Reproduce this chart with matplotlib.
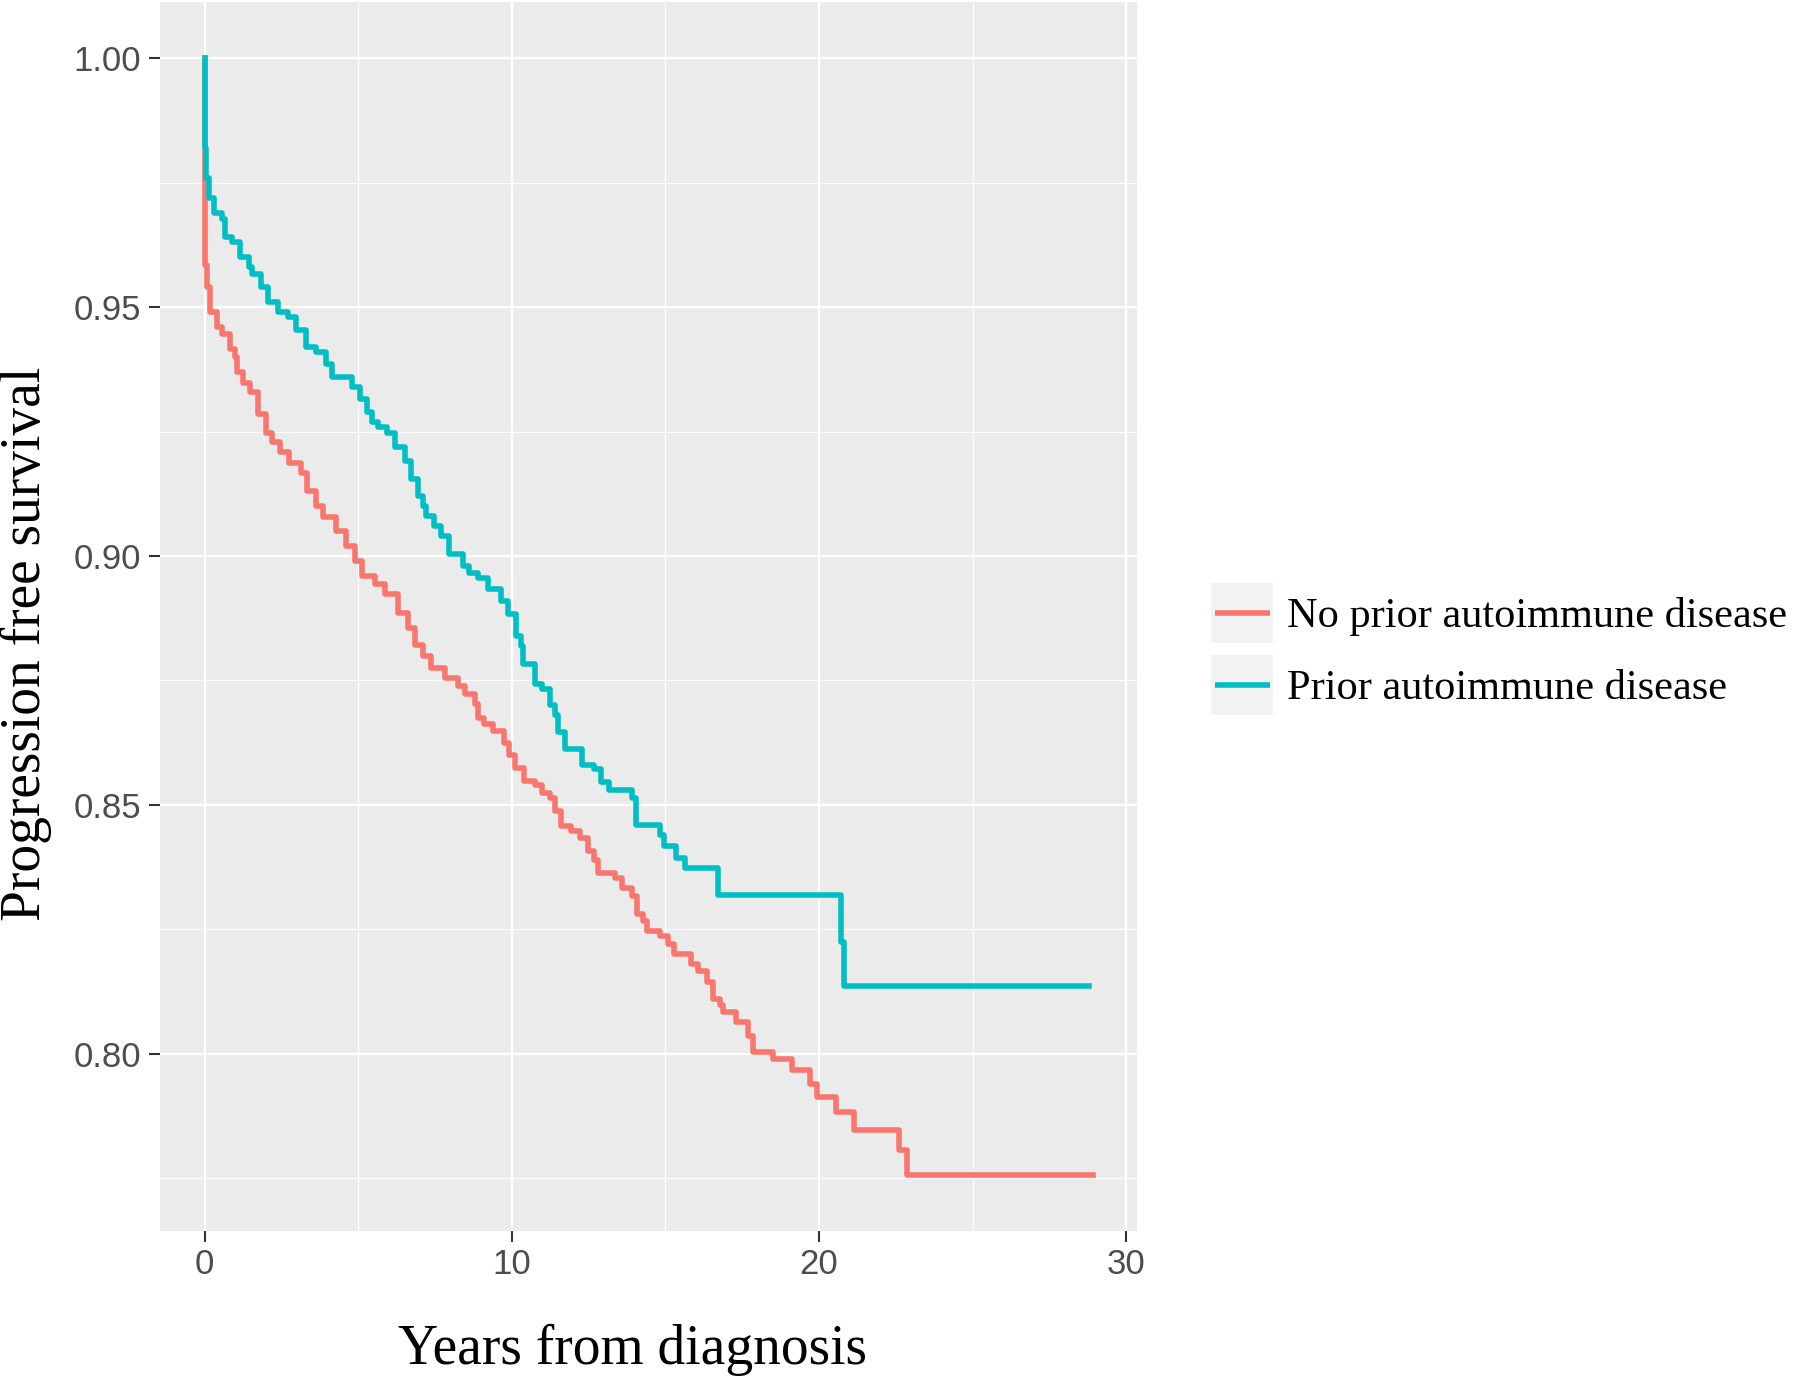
import numpy as np
import matplotlib
matplotlib.use('Agg')
import matplotlib.pyplot as plt
from matplotlib.patches import Rectangle
from matplotlib.lines import Line2D

# --- Kaplan-Meier estimates (years, survival) ---
no_prior_years = [0, 0.01, 0.02, 0.03, 0.086, 0.19, 0.4, 0.57, 0.84, 1.0, 1.05, 1.26, 1.48, 1.75,
                  2.0, 2.18, 2.44, 2.76, 3.14, 3.35, 3.62, 3.84, 4.27, 4.59, 4.9, 5.12, 5.54, 5.86,
                  6.3, 6.62, 6.84, 7.1, 7.38, 7.81, 8.24, 8.46, 8.79, 8.9, 9.11, 9.38, 9.76, 9.92,
                  10.09, 10.41, 10.74, 10.99, 11.24, 11.42, 11.61, 11.92, 12.23, 12.48, 12.66, 12.79,
                  13.35, 13.6, 13.9, 14.09, 14.27, 14.4, 14.83, 15.08, 15.27, 15.82, 16.07, 16.34,
                  16.55, 16.77, 16.88, 17.31, 17.7, 17.85, 18.5, 19.13, 19.7, 19.93, 20.54, 21.13,
                  22.6, 22.86, 28.9]
no_prior_surv = [1.0, 0.976, 0.968, 0.9585, 0.954, 0.949, 0.946, 0.9447, 0.9416, 0.940, 0.937, 0.9347,
                 0.933, 0.9286, 0.9247, 0.923, 0.921, 0.9186, 0.9167, 0.913, 0.910, 0.9078, 0.905,
                 0.902, 0.899, 0.896, 0.8943, 0.8923, 0.8886, 0.8856, 0.8822, 0.8799, 0.8775, 0.8755,
                 0.8739, 0.8722, 0.8702, 0.8675, 0.8662, 0.8648, 0.8625, 0.8601, 0.8575, 0.8548,
                 0.8541, 0.8523, 0.8513, 0.8487, 0.8457, 0.8447, 0.8433, 0.8407, 0.839, 0.8363,
                 0.8353, 0.8333, 0.8317, 0.828, 0.8267, 0.8247, 0.8237, 0.822, 0.82, 0.818, 0.8167,
                 0.8144, 0.811, 0.8097, 0.8084, 0.8064, 0.8035, 0.8003, 0.799, 0.7967, 0.794, 0.7913,
                 0.7883, 0.7846, 0.7806, 0.7756, 0.7756]

prior_years = [0, 0.02, 0.05, 0.15, 0.3, 0.57, 0.68, 0.89, 1.16, 1.43, 1.53, 1.85, 2.07, 2.39, 2.71,
               2.98, 3.3, 3.62, 3.94, 4.16, 4.8, 5.07, 5.3, 5.44, 5.66, 5.93, 6.2, 6.52, 6.73, 6.94,
               7.1, 7.21, 7.48, 7.7, 7.96, 8.4, 8.6, 8.9, 9.22, 9.65, 9.87, 10.12, 10.31, 10.38,
               10.74, 10.99, 11.24, 11.42, 11.49, 11.73, 12.29, 12.66, 12.91, 13.16, 13.9, 14.03,
               14.83, 14.96, 15.33, 15.64, 16.72, 20.73, 20.8, 28.8]
prior_surv = [1.0, 0.982, 0.976, 0.972, 0.969, 0.9677, 0.964, 0.963, 0.960, 0.958, 0.9566, 0.954,
              0.951, 0.949, 0.948, 0.9455, 0.942, 0.941, 0.9386, 0.936, 0.934, 0.9315, 0.929, 0.927,
              0.926, 0.9247, 0.922, 0.919, 0.9155, 0.912, 0.910, 0.908, 0.906, 0.904, 0.9005, 0.898,
              0.8965, 0.8956, 0.8933, 0.8909, 0.8883, 0.884, 0.882, 0.8783, 0.8743, 0.8733, 0.870,
              0.868, 0.8647, 0.8613, 0.858, 0.8573, 0.8547, 0.853, 0.8513, 0.846, 0.844, 0.8417,
              0.8393, 0.8373, 0.8318, 0.8224, 0.8136, 0.8136]

group_labels = ['No prior autoimmune disease', 'Prior autoimmune disease']
group_colors = ['#F8766D', '#00BFC4']

x_ticks = [0, 10, 20, 30]
y_ticks = [0.80, 0.85, 0.90, 0.95, 1.00]

serif = ['Liberation Serif', 'DejaVu Serif']
sans = ['Liberation Sans', 'DejaVu Sans']


class BoxedKey:
    # ggplot-style legend key: grey square with the line across it
    def legend_artist(self, legend, orig_handle, fontsize, handlebox):
        x0, y0 = -handlebox.xdescent, -handlebox.ydescent
        w, h = handlebox.width, handlebox.height
        tr = handlebox.get_transform()
        box = Rectangle((x0, y0), w, h, facecolor='#F2F2F2', edgecolor='none', transform=tr)
        line = Line2D([x0 + 0.06 * w, x0 + 0.94 * w], [y0 + h / 2, y0 + h / 2],
                      color=orig_handle.get_color(), lw=orig_handle.get_linewidth(),
                      solid_capstyle='butt', transform=tr)
        handlebox.add_artist(box)
        handlebox.add_artist(line)
        return line


fig = plt.figure(figsize=(18, 13.78), dpi=100)
ax = fig.add_axes([0.0889, 0.1067, 0.5428, 0.8918])
ax.set_facecolor('#EBEBEB')
for s in ax.spines.values():
    s.set_visible(False)

lines = []
for yrs, surv, col in [(no_prior_years, no_prior_surv, group_colors[0]),
                       (prior_years, prior_surv, group_colors[1])]:
    ln, = ax.plot(yrs, surv, drawstyle='steps-post', color=col, lw=4.0, zorder=3,
                  solid_joinstyle='round')
    lines.append(ln)

ax.set_xlim(-1.45, 30.35)
ax.set_ylim(0.7644, 1.0113)

ax.set_xticks(x_ticks)
ax.set_yticks(y_ticks)
ax.set_yticklabels([f'{v:.2f}' for v in y_ticks])
ax.set_xticks([5, 15, 25], minor=True)
ax.set_yticks([0.775, 0.825, 0.875, 0.925, 0.975], minor=True)
ax.grid(which='major', color='white', lw=1.6, zorder=0)
ax.grid(which='minor', color='white', lw=0.8, zorder=0)
ax.set_axisbelow(True)
ax.tick_params(which='major', length=8, width=1.5, color='#333333', labelcolor='#4D4D4D',
               labelsize=25)
ax.tick_params(axis='y', which='major', pad=5.5)
ax.tick_params(axis='x', which='major', pad=4)
ax.tick_params(which='minor', length=0)
for lab in ax.get_xticklabels() + ax.get_yticklabels():
    lab.set_family(sans)

ax.set_xlabel('Years from diagnosis', fontsize=40, family=serif)
ax.set_ylabel('Progression free survival', fontsize=40, family=serif)
ax.xaxis.set_label_coords(0.484, -0.0755)
ax.yaxis.set_label_coords(-0.111, 0.478)

ax.legend(lines, group_labels, handler_map={Line2D: BoxedKey()},
          loc='center left', bbox_to_anchor=(0.6728, 0.529), bbox_transform=fig.transFigure,
          frameon=False, borderpad=0, borderaxespad=0, handlelength=1.47, handleheight=1.78,
          handletextpad=0.33, labelspacing=0.3, prop={'family': serif, 'size': 30.5})

plt.savefig('out.png', dpi=100)
